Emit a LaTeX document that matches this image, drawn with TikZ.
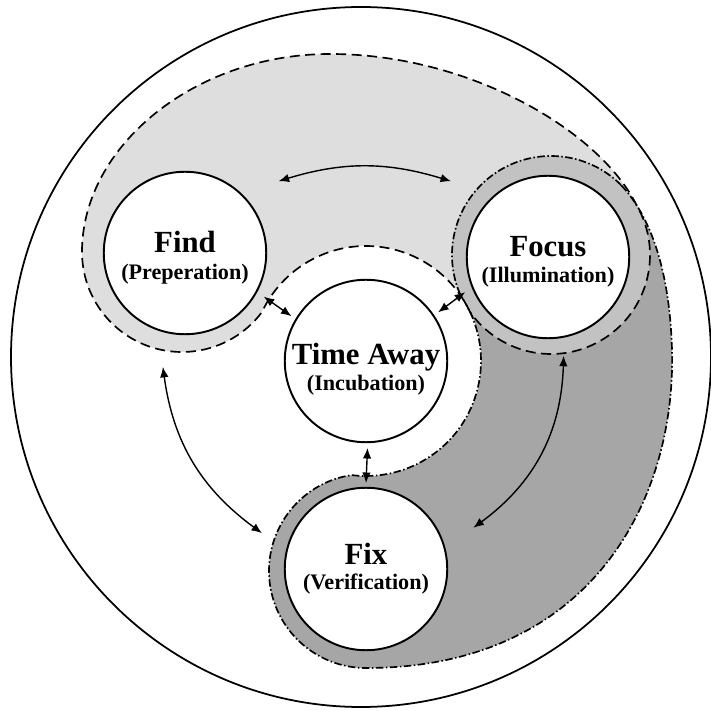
\documentclass[tikz,border=0pt]{standalone}
\usepackage{fontspec}
\setmainfont{Liberation Serif}
\usetikzlibrary{arrows.meta,calc}
\definecolor{zonelight}{gray}{0.87}
\definecolor{zonemid}{gray}{0.76}
\definecolor{zonedark}{gray}{0.65}

\begin{document}
\begin{tikzpicture}[x=0.02cm,y=0.02cm,
  stage/.style={circle,draw=black,fill=white,line width=1.1pt,minimum size=3.25cm,inner sep=0pt},
  title/.style={font=\fontsize{17.5}{18}\selectfont\bfseries,inner sep=0pt,anchor=base},
  subtitle/.style={font=\fontsize{12.6}{13}\selectfont\bfseries,inner sep=0pt,anchor=base},
  link/.style={{Latex[length=2.1mm,width=1.7mm]}-{Latex[length=2.1mm,width=1.7mm]},line width=0.8pt},
  lightedge/.style={line width=0.95pt,dash pattern=on 2mm off 1.1mm},
  darkedge/.style={line width=0.95pt,dash pattern=on 1.5mm off 0.5mm on 0.3mm off 0.5mm}]
\useasboundingbox (0,0) rectangle (711,711);
\draw [black,line width=1pt] (361,354) circle (350);
\coordinate (findring) at (182,459);
\coordinate (focusring) at (551,456);
\coordinate (timering) at (366,350);
\coordinate (fixring) at (366,140);
\fill [zonelight, save path=\lightzone] ($(findring)+(180:100)$) .. controls (82,565) and (195,657) .. (330,657)
  .. controls (470,657) and (600,580) .. ($(focusring)+(30:99)$) arc [start angle=30, end angle=-145, radius=99]
  -- ($(timering)+(25.3:115)$) arc [start angle=25.3, end angle=154.84, radius=115]
  -- ($(findring)+(-36.95:100)$) arc [start angle=-36.95, end angle=-180, radius=100] -- cycle;
\fill [zonedark, save path=\darkzone] ($(focusring)+(45:99)$) arc [start angle=45, end angle=204.6, radius=99]
  -- ($(timering)+(34.3:115)$) arc [start angle=34.3, end angle=-97.22, radius=115]
  -- ($(fixring)+(98.57:97)$) arc [start angle=98.57, end angle=270, radius=97]
  .. controls (590,43) and (676,210) .. (672,361)
  .. controls (670,430) and (655,490) .. ($(focusring)+(45:99)$) -- cycle;
\fill [zonemid] (focusring) circle (99);
\fill [white] (timering) circle (115);
\draw [lightedge, use path=\lightzone];
\draw [darkedge, use path=\darkzone];
\node [stage] (find) at (185,458) {};
\node [stage] (focus) at (548,454) {};
\node [stage] (timeaway) at (366,350) {};
\node [stage] (fix) at (366,142) {};
\node [title] (findname) at (find) {Find};
\node [subtitle] (findsub) at ($(find)+(0,-27)$) {(Preperation)};
\node [title] (focusname) at (focus) {Focus};
\node [subtitle] (focussub) at ($(focus)+(0,-26)$) {(Illumination)};
\node [title] (timename) at ($(timeaway)+(0,-4)$) {Time Away};
\node [subtitle] (timesub) at ($(timeaway)+(0,-30)$) {(Incubation)};
\node [title] (fixname) at ($(fix)+(0,4)$) {Fix};
\node [subtitle] (fixsub) at ($(fix)+(0,-21)$) {(Verification)};
\draw [link] ($(find)+(37.5:118)$) to [bend left=17] ($(focus)+(142:123)$);
\draw [link] ($(find)+(-29:90)$) -- ($(timeaway)+(149:87)$);
\draw [link] ($(focus)+(203:90)$) -- ($(timeaway)+(34:87)$);
\draw [link] ($(timeaway)+(-89:87)$) -- ($(fix)+(90:86)$);
\draw [link] ($(find)+(259:116)$) to [bend right=23] ($(fix)+(161:110)$);
\draw [link] ($(focus)+(-81:100)$) to [bend left=26] ($(fix)+(21:115)$);
\end{tikzpicture}
\end{document}
